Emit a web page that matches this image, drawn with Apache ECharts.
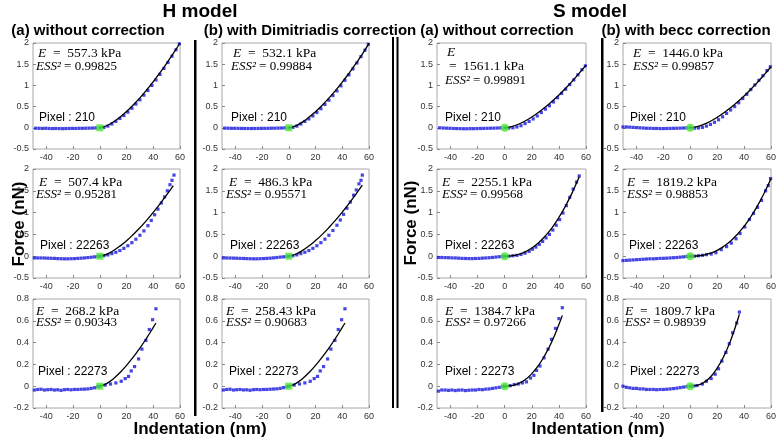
<!DOCTYPE html>
<html><head><meta charset="utf-8">
<script src="https://cdn.jsdelivr.net/npm/echarts@6/dist/echarts.min.js"></script>
<style>html,body{margin:0;padding:0;background:#fff}#c{width:780px;height:440px}</style>
</head><body><div id="c"></div>
<script>
// ---------- DATA ----------
const xTicks = [-40, -20, 0, 20, 40, 60];
const modelTitles = ['H model', 'S model'];
const panelTitles = ['(a) without correction', '(b) with Dimitriadis correction', '(a) without correction', '(b) with becc correction'];
const pixelLabels = ['Pixel : 210', 'Pixel : 22263', 'Pixel : 22273'];
const eLabels = ['557.3', '532.1', '1561.1', '1446.0', '507.4', '486.3', '2255.1', '1819.2', '268.2', '258.43', '1384.7', '1809.7'];
const essLabels = ['0.99825', '0.99884', '0.99891', '0.99857', '0.95281', '0.95571', '0.99568', '0.98853', '0.90343', '0.90683', '0.97266', '0.98939'];
const rowYRanges = [[-0.5, 2, 0.5], [-0.5, 2, 0.5], [-0.2, 0.8, 0.2]];
const contactPoint = [0, 0];

// Row 1: pixel 210
const hA210Dots = [[-48,-0.01],[-45.5,-0.012],[-43,-0.015],[-40.5,-0.012],[-38,-0.016],[-35.5,-0.018],[-33,-0.016],[-30.5,-0.018],[-28,-0.02],[-25.5,-0.017],[-23,-0.016],[-20.5,-0.014],[-18,-0.015],[-15.5,-0.012],[-13,-0.012],[-10.5,-0.01],[-8,-0.008],[-5.5,-0.006],[-3,-0.003],[0,0],
  [3,0.01],[6,0.04],[9,0.09],[12,0.15],[15,0.22],[18,0.29],[21,0.37],[24,0.46],[27,0.56],[30,0.66],[33,0.77],[36,0.88],[39,1.0],[42,1.13],[45,1.26],[48,1.4],[51,1.54],[54,1.69],[57,1.84],[59.5,1.98]];
const hA210Fit = [[0,0],[5,0.048],[10,0.136],[15,0.25],[20,0.385],[25,0.538],[30,0.707],[35,0.891],[40,1.089],[45,1.299],[50,1.521],[55,1.755],[60,2.0]];

const hB210Dots = [[-48,-0.008],[-45.5,-0.01],[-43,-0.012],[-40.5,-0.012],[-38,-0.014],[-35.5,-0.015],[-33,-0.016],[-30.5,-0.016],[-28,-0.017],[-25.5,-0.016],[-23,-0.015],[-20.5,-0.014],[-18,-0.013],[-15.5,-0.012],[-13,-0.01],[-10.5,-0.009],[-8,-0.007],[-5.5,-0.005],[-3,-0.002],[0,0],
  [3,0.01],[6,0.04],[9,0.09],[12,0.15],[15,0.21],[18,0.28],[21,0.36],[24,0.45],[27,0.55],[30,0.65],[33,0.76],[36,0.87],[39,0.99],[42,1.12],[45,1.25],[48,1.39],[51,1.53],[54,1.68],[57,1.83],[59.5,1.97]];
const hB210Fit = [[0,0],[5,0.047],[10,0.134],[15,0.247],[20,0.381],[25,0.532],[30,0.7],[35,0.882],[40,1.078],[45,1.286],[50,1.506],[55,1.737],[60,1.99]];

const sA210Dots = [[-48,0.0],[-45.5,-0.005],[-43,-0.008],[-40.5,-0.012],[-38,-0.015],[-35.5,-0.018],[-33,-0.02],[-30.5,-0.022],[-28,-0.022],[-25.5,-0.02],[-23,-0.02],[-20.5,-0.018],[-18,-0.016],[-15.5,-0.014],[-13,-0.012],[-10.5,-0.01],[-8,-0.008],[-5.5,-0.005],[-3,-0.002],[0,0],
  [3,-0.005],[6,0.0],[9,0.02],[12,0.05],[15,0.1],[18,0.15],[21,0.21],[24,0.28],[27,0.36],[30,0.44],[33,0.52],[36,0.61],[39,0.71],[42,0.81],[45,0.91],[48,1.02],[51,1.13],[54,1.25],[57,1.37],[59.5,1.46]];
const sA210Fit = [[0,0],[5,0.028],[10,0.084],[15,0.161],[20,0.255],[25,0.365],[30,0.488],[35,0.625],[40,0.774],[45,0.934],[50,1.106],[55,1.288],[60,1.48]];

const sB210Dots = [[-50,0.02],[-47.5,0.02],[-45,0.015],[-42.5,0.01],[-40,0.005],[-37.5,0.0],[-35,-0.005],[-32.5,-0.01],[-30,-0.012],[-27.5,-0.015],[-25,-0.015],[-22.5,-0.018],[-20,-0.018],[-17.5,-0.016],[-15,-0.015],[-12.5,-0.012],[-10,-0.01],[-7.5,-0.008],[-5,-0.005],[-2.5,-0.002],[0,0],
  [3,-0.01],[6,-0.005],[9,0.01],[12,0.04],[15,0.08],[18,0.13],[21,0.19],[24,0.26],[27,0.34],[30,0.42],[33,0.5],[36,0.59],[39,0.69],[42,0.79],[45,0.9],[48,1.01],[51,1.12],[54,1.23],[57,1.35],[59.5,1.44]];
const sB210Fit = [[0,0],[5,0.026],[10,0.08],[15,0.155],[20,0.247],[25,0.354],[30,0.474],[35,0.607],[40,0.752],[45,0.908],[50,1.075],[55,1.253],[60,1.44]];

// Row 2: pixel 22263
const hA22263Dots = [[-49,-0.04],[-46.5,-0.04],[-44,-0.04],[-41.5,-0.042],[-39,-0.045],[-36.5,-0.048],[-34,-0.05],[-31.5,-0.055],[-29,-0.058],[-26.5,-0.06],[-24,-0.06],[-21.5,-0.058],[-19,-0.055],[-16.5,-0.05],[-14,-0.045],[-11.5,-0.04],[-9,-0.032],[-6.5,-0.025],[-4,-0.015],[-1.5,-0.005],[0,0],
  [3,0.01],[6,0.03],[9,0.06],[12,0.09],[15,0.13],[18,0.18],[21,0.24],[24,0.31],[27,0.39],[30,0.48],[33,0.58],[36,0.7],[38.5,0.82],[41,0.95],[43.5,1.08],[46,1.22],[48.5,1.36],[50.5,1.5],[52.5,1.64],[54,1.74],[55.5,1.86]];
const hA22263Fit = [[0,0],[5,0.044],[10,0.126],[15,0.231],[20,0.355],[25,0.497],[30,0.653],[35,0.822],[40,1.005],[45,1.199],[50,1.404],[55,1.62]];

const hB22263Dots = [[-49,-0.04],[-46.5,-0.04],[-44,-0.042],[-41.5,-0.044],[-39,-0.046],[-36.5,-0.05],[-34,-0.052],[-31.5,-0.056],[-29,-0.058],[-26.5,-0.06],[-24,-0.06],[-21.5,-0.057],[-19,-0.054],[-16.5,-0.05],[-14,-0.045],[-11.5,-0.038],[-9,-0.03],[-6.5,-0.022],[-4,-0.014],[-1.5,-0.005],[0,0],
  [3,0.01],[6,0.03],[9,0.06],[12,0.09],[15,0.13],[18,0.18],[21,0.24],[24,0.31],[27,0.39],[30,0.48],[33,0.59],[36,0.71],[38.5,0.83],[41,0.96],[43.5,1.1],[46,1.24],[48.5,1.4],[50.5,1.52],[52.5,1.66],[54,1.74],[55,1.86]];
const hB22263Fit = [[0,0],[5,0.045],[10,0.127],[15,0.233],[20,0.358],[25,0.5],[30,0.657],[35,0.828],[40,1.012],[45,1.207],[50,1.414],[55,1.63]];

const sA22263Dots = [[-49,-0.03],[-46.5,-0.03],[-44,-0.032],[-41.5,-0.035],[-39,-0.038],[-36.5,-0.04],[-34,-0.045],[-31.5,-0.05],[-29,-0.052],[-26.5,-0.055],[-24,-0.055],[-21.5,-0.052],[-19,-0.05],[-16.5,-0.045],[-14,-0.04],[-11.5,-0.035],[-9,-0.028],[-6.5,-0.02],[-4,-0.012],[-1.5,-0.004],[0,0],
  [3,0.0],[6,0.01],[9,0.02],[12,0.04],[15,0.07],[18,0.11],[20.5,0.16],[23,0.21],[25.5,0.27],[28,0.34],[30.5,0.42],[33,0.5],[35.5,0.6],[38,0.71],[40.5,0.84],[43,0.99],[45.5,1.16],[48,1.35],[50.5,1.54],[53,1.7],[55,1.84]];
const sA22263Fit = [[0,0],[5,0.008],[10,0.039],[15,0.098],[20,0.187],[25,0.309],[30,0.465],[35,0.658],[40,0.889],[45,1.159],[50,1.469],[55,1.82]];

const sB22263Dots = [[-50,-0.1],[-47.5,-0.095],[-45,-0.09],[-42.5,-0.085],[-40,-0.08],[-37.5,-0.075],[-35,-0.07],[-32.5,-0.065],[-30,-0.06],[-27.5,-0.06],[-25,-0.055],[-22.5,-0.05],[-20,-0.048],[-17.5,-0.045],[-15,-0.04],[-12.5,-0.035],[-10,-0.03],[-7.5,-0.022],[-5,-0.015],[-2.5,-0.006],[0,0],
  [3,0.0],[6,0.01],[9,0.02],[12,0.035],[15.5,0.05],[19,0.08],[23,0.15],[27,0.22],[30.5,0.3],[34,0.4],[37,0.52],[40.5,0.67],[44,0.84],[47,0.98],[50,1.12],[53,1.28],[56,1.5],[58,1.62],[59.7,1.78]];
const sB22263Fit = [[0,0],[5,0.005],[10,0.026],[15,0.069],[20,0.135],[25,0.228],[30,0.349],[35,0.501],[40,0.686],[45,0.905],[50,1.16],[55,1.45],[60,1.78]];

// Row 3: pixel 22273
const hA22273Dots = [[-49,-0.035],[-46.5,-0.03],[-44,-0.028],[-41.5,-0.035],[-39,-0.032],[-36.5,-0.03],[-34,-0.035],[-31.5,-0.033],[-29,-0.038],[-26.5,-0.032],[-24,-0.03],[-21.5,-0.033],[-19,-0.03],[-16.5,-0.03],[-14,-0.028],[-11.5,-0.027],[-9,-0.025],[-6.5,-0.02],[-4,-0.014],[-1.5,-0.005],[0,0],
  [4,0.01],[8,0.02],[12,0.03],[16,0.045],[19,0.07],[21.5,0.09],[23.5,0.14],[26,0.18],[29,0.25],[31.5,0.34],[34.5,0.42],[37,0.52],[39.5,0.61],[42,0.71]];
const hA22273Fit = [[0,0],[5,0.024],[10,0.067],[15,0.124],[20,0.191],[25,0.266],[30,0.35],[35,0.441],[40,0.539],[42,0.58]];

const hB22273Dots = [[-49,-0.035],[-46.5,-0.03],[-44,-0.028],[-41.5,-0.035],[-39,-0.032],[-36.5,-0.03],[-34,-0.034],[-31.5,-0.033],[-29,-0.037],[-26.5,-0.032],[-24,-0.03],[-21.5,-0.032],[-19,-0.03],[-16.5,-0.03],[-14,-0.028],[-11.5,-0.026],[-9,-0.024],[-6.5,-0.02],[-4,-0.013],[-1.5,-0.005],[0,0],
  [4,0.01],[8,0.02],[12,0.03],[16,0.045],[19,0.07],[21.5,0.09],[23.5,0.14],[26,0.18],[29,0.25],[31.5,0.34],[34.5,0.42],[37,0.52],[39.5,0.61],[42,0.71]];
const hB22273Fit = [[0,0],[5,0.024],[10,0.067],[15,0.124],[20,0.191],[25,0.266],[30,0.35],[35,0.441],[40,0.539],[42,0.58]];

const sA22273Dots = [[-49,-0.045],[-46.5,-0.035],[-44,-0.035],[-41.5,-0.038],[-39,-0.035],[-36.5,-0.04],[-34,-0.036],[-31.5,-0.035],[-29,-0.04],[-26.5,-0.037],[-24,-0.035],[-21.5,-0.035],[-19,-0.03],[-16.5,-0.032],[-14,-0.027],[-11.5,-0.025],[-9,-0.02],[-6.5,-0.015],[-4,-0.01],[-1.5,-0.003],[0,0],
  [4,0.005],[7,0.015],[10,0.02],[13,0.03],[16,0.04],[19,0.075],[21.5,0.1],[23.5,0.145],[26,0.185],[29,0.26],[32,0.34],[34.5,0.43],[37.5,0.53],[40,0.62],[42.5,0.72]];
const sA22273Fit = [[0,0],[5,0.005],[10,0.023],[15,0.059],[20,0.115],[25,0.192],[30,0.292],[35,0.416],[40,0.565],[42.5,0.65]];

const sB22273Dots = [[-50,0.0],[-47.5,-0.01],[-45,-0.015],[-42.5,-0.02],[-40,-0.02],[-37.5,-0.025],[-35,-0.025],[-32.5,-0.03],[-30,-0.03],[-27.5,-0.03],[-25,-0.032],[-22.5,-0.03],[-20,-0.03],[-17.5,-0.028],[-15,-0.025],[-12.5,-0.022],[-10,-0.018],[-7.5,-0.013],[-5,-0.008],[-2.5,-0.003],[0,0],
  [2.5,0.002],[5,0.006],[9,0.02],[12,0.045],[15.5,0.07],[18.5,0.11],[21,0.16],[23.5,0.23],[26.5,0.31],[29,0.39],[31.5,0.49],[34.5,0.58],[36.5,0.68]];
const sB22273Fit = [[0,0],[5,0.007],[10,0.034],[15,0.085],[20,0.165],[25,0.276],[30,0.42],[35,0.6],[36.5,0.66]];

const panelDots = [hA210Dots, hB210Dots, sA210Dots, sB210Dots, hA22263Dots, hB22263Dots, sA22263Dots, sB22263Dots, hA22273Dots, hB22273Dots, sA22273Dots, sB22273Dots];
const panelFits = [hA210Fit, hB210Fit, sA210Fit, sB210Fit, hA22263Fit, hB22263Fit, sA22263Fit, sB22263Fit, hA22273Fit, hB22273Fit, sA22273Fit, sB22273Fit];

// ---------- LAYOUT ----------
const colBoxes = [{ l: 33, w: 147 }, { l: 222, w: 147 }, { l: 437, w: 149 }, { l: 623, w: 148 }];
const rowBoxes = [{ t: 43, h: 106 }, { t: 169, h: 109 }, { t: 299, h: 109 }];
// text positions [eX, eY, essX, essY, pixX, pixY]
const textPos = [
  [38, 53, 36, 67, 39, 118], [233, 53, 231, 67, 231, 118], [447, 52, 445, 81, 445, 118], [633, 53, 633, 67, 630, 118],
  [39, 182, 36, 195, 40, 246], [229, 182, 226, 195, 230, 246], [442, 182, 442, 195, 445, 246], [627, 182, 627, 195, 629, 246],
  [36, 311, 36, 323, 38, 372], [226, 311, 226, 323, 229, 372], [445, 311, 445, 323, 445, 372], [625, 311, 625, 323, 630, 372]
];

const SERIF = '"Liberation Serif","DejaVu Serif",serif';
const SANS = '"Liberation Sans",Arial,sans-serif';
const FS = 13.5;
const richI = { i: { fontStyle: 'italic', fontFamily: SERIF, fontSize: FS } };

const grids = [], xAxes = [], yAxes = [], series = [], graphics = [];
for (let r = 0; r < 3; r++) {
  for (let c = 0; c < 4; c++) {
    const i = r * 4 + c;
    const [ymin, ymax, yint] = rowYRanges[r];
    grids.push({ left: colBoxes[c].l, top: rowBoxes[r].t, width: colBoxes[c].w, height: rowBoxes[r].h,
      show: true, borderColor: '#a8a8a8', borderWidth: 1, backgroundColor: 'transparent' });
    xAxes.push({ type: 'value', gridIndex: i, min: -50, max: 60,
      axisLine: { show: false, onZero: false },
      axisTick: { show: true, inside: true, length: 3, customValues: xTicks, lineStyle: { color: '#888' } },
      axisLabel: { customValues: xTicks, fontSize: 9, color: '#333', margin: 4, fontFamily: SANS },
      splitLine: { show: false } });
    yAxes.push({ type: 'value', gridIndex: i, min: ymin, max: ymax, interval: yint,
      axisLine: { show: false, onZero: false },
      axisTick: { show: true, inside: true, length: 3, lineStyle: { color: '#888' } },
      axisLabel: { fontSize: 9, color: '#333', margin: 4, fontFamily: SANS },
      splitLine: { show: false } });
    series.push({ type: 'scatter', xAxisIndex: i, yAxisIndex: i, data: panelDots[i], symbol: 'rect', symbolSize: 3.2,
      itemStyle: { color: '#1616dc' }, z: 2, silent: true, animation: false });
    series.push({ type: 'line', xAxisIndex: i, yAxisIndex: i, data: panelFits[i], smooth: true, showSymbol: false,
      lineStyle: { color: '#000', width: 1.3 }, z: 3, silent: true, animation: false });
    series.push({ type: 'scatter', xAxisIndex: i, yAxisIndex: i, data: [contactPoint], symbol: c < 2 ? 'rect' : 'circle',
      symbolSize: c < 2 ? 7 : 8, itemStyle: { color: '#48e832' }, z: 4, silent: true, animation: false });

    const p = textPos[i];
    if (i === 2) {
      graphics.push({ type: 'text', x: p[0], y: p[1], style: { text: '{i|E}', rich: richI, fontFamily: SERIF, fontSize: FS, fill: '#000', verticalAlign: 'middle' } });
      graphics.push({ type: 'text', x: p[0] + 2, y: p[1] + 14, style: { text: '=  ' + eLabels[i] + ' kPa', fontFamily: SERIF, fontSize: FS, fill: '#000', verticalAlign: 'middle' } });
    } else {
      graphics.push({ type: 'text', x: p[0], y: p[1], style: { text: '{i|E}  =  ' + eLabels[i] + ' kPa', rich: richI, fontFamily: SERIF, fontSize: FS, fill: '#000', verticalAlign: 'middle' } });
    }
    graphics.push({ type: 'text', x: p[2], y: p[3], style: { text: '{i|ESS²} = ' + essLabels[i], rich: { i: { fontStyle: 'italic', fontFamily: SERIF, fontSize: 13 } }, fontFamily: SERIF, fontSize: 13, fill: '#000', verticalAlign: 'middle' } });
    graphics.push({ type: 'text', x: p[4], y: p[5], style: { text: pixelLabels[r], fontFamily: SANS, fontSize: 12, fill: '#000', verticalAlign: 'middle' } });
  }
}

// titles
graphics.push({ type: 'text', x: 200, y: 12, style: { text: modelTitles[0], fontFamily: SANS, fontWeight: 'bold', fontSize: 19, fill: '#000', align: 'center', verticalAlign: 'middle' } });
graphics.push({ type: 'text', x: 590, y: 12, style: { text: modelTitles[1], fontFamily: SANS, fontWeight: 'bold', fontSize: 19, fill: '#000', align: 'center', verticalAlign: 'middle' } });
const titleX = [88, 310, 497, 686];
titleX.forEach((x, k) => graphics.push({ type: 'text', x: x, y: 31, style: { text: panelTitles[k], fontFamily: SANS, fontWeight: 'bold', fontSize: 15, fill: '#000', align: 'center', verticalAlign: 'middle' } }));
// axis names
[[19, 224], [411, 223]].forEach(([x, y]) => graphics.push({ type: 'text', x: x, y: y, rotation: Math.PI / 2,
  style: { text: 'Force (nN)', fontFamily: SANS, fontWeight: 'bold', fontSize: 17, fill: '#000', align: 'center', verticalAlign: 'middle' } }));
[200, 598].forEach(x => graphics.push({ type: 'text', x: x, y: 429, style: { text: 'Indentation (nm)', fontFamily: SANS, fontWeight: 'bold', fontSize: 17, fill: '#000', align: 'center', verticalAlign: 'middle' } }));
// separators
graphics.push({ type: 'rect', shape: { x: 194, y: 40, width: 2.5, height: 376 }, style: { fill: '#000' } });
graphics.push({ type: 'rect', shape: { x: 392, y: 37, width: 2, height: 371 }, style: { fill: '#000' } });
graphics.push({ type: 'rect', shape: { x: 396.5, y: 37, width: 2, height: 371 }, style: { fill: '#000' } });
graphics.push({ type: 'rect', shape: { x: 601, y: 38, width: 2.5, height: 374 }, style: { fill: '#000' } });

const chart = echarts.init(document.getElementById('c'), null, { renderer: 'canvas' });
chart.setOption({ animation: false, grid: grids, xAxis: xAxes, yAxis: yAxes, series: series, graphic: graphics });
</script></body></html>
